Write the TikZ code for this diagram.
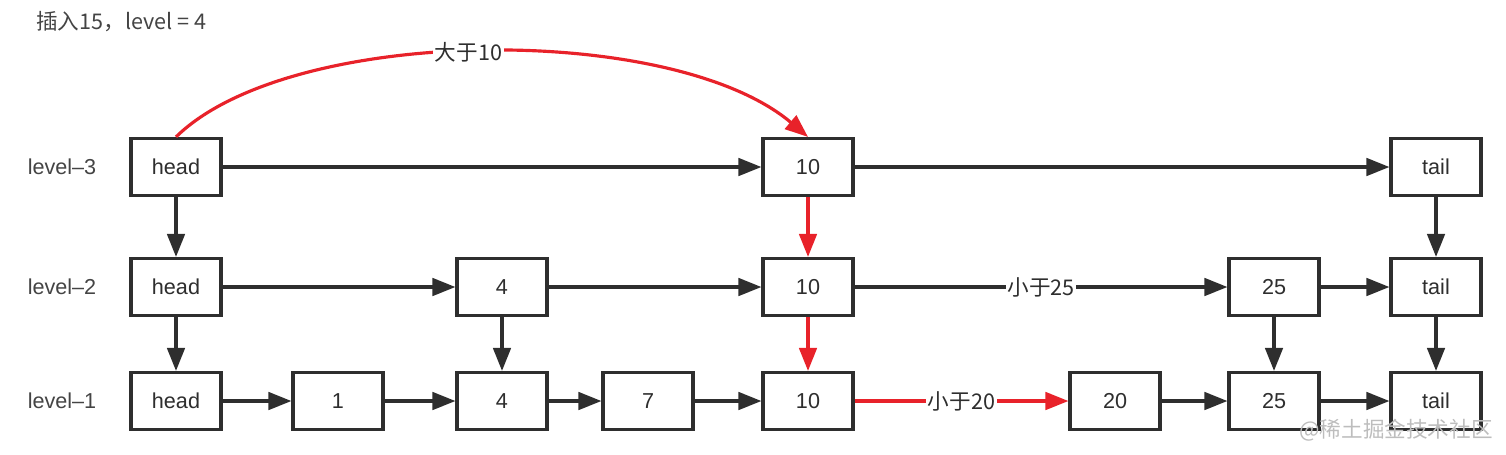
\documentclass[tikz,border=0pt]{standalone}
\usepackage{fontspec}
\setmainfont{Liberation Sans}
\newfontfamily\cjkfont{Noto Sans CJK SC}
\definecolor{skipInk}{HTML}{2E2E2E}
\definecolor{skipLabel}{HTML}{444444}
\definecolor{skipRed}{HTML}{E8222A}
\definecolor{skipMark}{HTML}{BDBDBD}
\usepackage{tikz}
\usetikzlibrary{arrows.meta, positioning}
\newcommand{\cjk}[1]{{\cjkfont #1}}
\tikzset{
  cell/.style={draw=skipInk, line width=1.8pt, fill=white, minimum width=1.8cm,
    minimum height=1.14cm, inner sep=0pt, text=skipInk,
    font=\fontsize{12.3}{14}\selectfont},
  link/.style={draw=skipInk, line width=1.8pt,
    -{Triangle[length=0.46cm, width=0.35cm]}},
  hot/.style={link, draw=skipRed},
  tag/.style={fill=white, inner sep=1pt, text=skipInk, font=\fontsize{12.3}{14}\selectfont},
  lvl/.style={text=skipLabel, font=\fontsize{12.3}{14}\selectfont}
}

\begin{document}
\begin{tikzpicture}[x=0.02cm, y=-0.02cm]
  \useasboundingbox (0,0) rectangle (1506,454);
  % caption and levels
  \node[lvl, anchor=west] (title) at (30,22) {\cjk{插入15，level = 4}};
  \node[lvl] (lab3) at (62,167) {level--3};
  \node[lvl] (lab2) at (62,287) {level--2};
  \node[lvl] (lab1) at (62,401) {level--1};

  % level-3
  \node[cell] (l3head) at (176,167) {head};
  \node[cell] (l3ten)  at (808,167) {10};
  \node[cell] (l3tail) at (1436,167) {tail};
  % level-2
  \node[cell] (l2head)  at (176,287) {head};
  \node[cell] (l2four)  at (502,287) {4};
  \node[cell] (l2ten)   at (808,287) {10};
  \node[cell] (l2tfive) at (1274,287) {25};
  \node[cell] (l2tail)  at (1436,287) {tail};
  % level-1
  \node[cell] (l1head)   at (176,401) {head};
  \node[cell] (l1one)    at (338,401) {1};
  \node[cell] (l1four)   at (502,401) {4};
  \node[cell] (l1seven)  at (648,401) {7};
  \node[cell] (l1ten)    at (808,401) {10};
  \node[cell] (l1twenty) at (1115,401) {20};
  \node[cell] (l1tfive)  at (1274,401) {25};
  \node[cell] (l1tail)   at (1436,401) {tail};

  % forward links
  \draw[link] (l3head) -- (l3ten);
  \draw[link] (l3ten) -- (l3tail);
  \draw[link] (l2head) -- (l2four);
  \draw[link] (l2four) -- (l2ten);
  \draw[link] (l2ten) -- node[tag] {\cjk{小于25}} (l2tfive);
  \draw[link] (l2tfive) -- (l2tail);
  \draw[link] (l1head) -- (l1one);
  \draw[link] (l1one) -- (l1four);
  \draw[link] (l1four) -- (l1seven);
  \draw[link] (l1seven) -- (l1ten);
  \draw[hot] (l1ten) -- node[tag] {\cjk{小于20}} (l1twenty);
  \draw[link] (l1twenty) -- (l1tfive);
  \draw[link] (l1tfive) -- (l1tail);

  % down links
  \draw[link] (l3head) -- (l2head);
  \draw[link] (l2head) -- (l1head);
  \draw[link] (l2four) -- (l1four);
  \draw[hot] (l3ten) -- (l2ten);
  \draw[hot] (l2ten) -- (l1ten);
  \draw[link] (l2tfive) -- (l1tfive);
  \draw[link] (l3tail) -- (l2tail);
  \draw[link] (l2tail) -- (l1tail);

  % search path from the top head
  \draw[hot] (l3head.north) .. controls (290,25) and (672,22) .. (l3ten.north)
    node[tag, pos=0.48] {\cjk{大于10}};

  \node[text=skipMark, font=\fontsize{12.3}{14}\selectfont] (mark) at (1396,430)
    {\cjk{@稀土掘金技术社区}};
\end{tikzpicture}
\end{document}
